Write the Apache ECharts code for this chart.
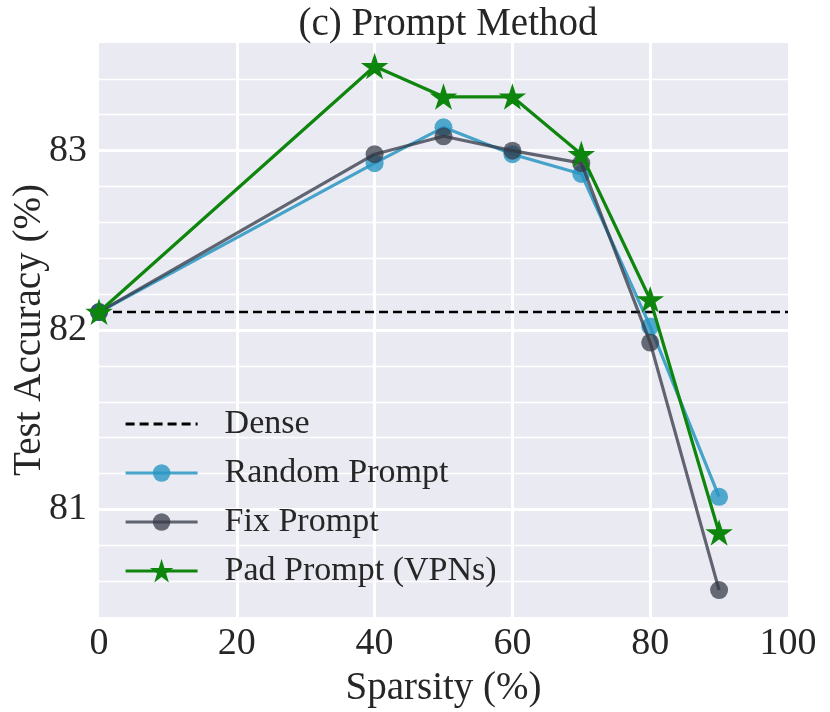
<!DOCTYPE html>
<html>
<head>
<meta charset="utf-8">
<script src="https://cdn.jsdelivr.net/npm/echarts@6/dist/echarts.min.js"></script>
<style>
  html, body { margin: 0; padding: 0; background: #fff; }
  #chart { width: 830px; height: 712px; }
</style>
</head>
<body>
<div id="chart"></div>
<script>
// sparsity levels (%)
const sparsity = [0, 40, 50, 60, 70, 80, 90];
// test accuracy (%) per method
const randomPrompt = [82.10, 82.93, 83.13, 82.98, 82.87, 82.02, 81.07];
const fixPrompt = [82.10, 82.98, 83.08, 83.00, 82.93, 81.93, 80.55];
const padPrompt = [82.10, 83.47, 83.30, 83.30, 82.98, 82.17, 80.87];
const denseAcc = 82.10;
const denseRange = [0, 100];
// labelled y ticks (major grid)
const yMajor = [81, 82, 83];

const FONT = 'Liberation Serif';
const TXT = '#262626';
const GREEN = '#0E860E';
const STAR = 'path://M50 0 L61.23 34.55 L97.55 34.55 L68.17 55.9 L79.39 90.45 L50 69.1 L20.61 90.45 L31.83 55.9 L2.45 34.55 L38.77 34.55 Z';

const pairs = (ys) => sparsity.map((x, i) => [x, ys[i]]);

const chart = echarts.init(document.getElementById('chart'), null, { renderer: 'canvas' });

chart.setOption({
	animation: false,
	backgroundColor: '#fff',
	title: {
		text: '(c) Prompt Method',
		left: 443,
		textAlign: 'center',
		top: 0,
		textStyle: { fontFamily: FONT, fontSize: 39, fontWeight: 'normal', color: TXT }
	},
	grid: {
		left: 99,
		right: 42,
		top: 43,
		bottom: 95,
		outerBoundsMode: 'none',
		containLabel: false,
		show: true,
		backgroundColor: '#EAEAF2',
		borderWidth: 0
	},
	legend: {
		data: [
			// dashed line only, no marker
			{ name: 'Dense', itemStyle: { color: 'rgba(0,0,0,0)', borderWidth: 0 } },
			'Random Prompt', 'Fix Prompt', 'Pad Prompt (VPNs)'
		],
		orient: 'vertical',
		left: 124,
		top: 407,
		padding: 0,
		itemWidth: 72,
		itemHeight: 22,
		itemGap: 15,
		lineStyle: { width: 3.2 },
		textStyle: {
			fontFamily: FONT, fontSize: 34, color: TXT,
			lineHeight: 34, padding: [0, 0, 0, 22]
		}
	},
	xAxis: {
		type: 'value',
		min: 0,
		max: 100,
		interval: 20,
		name: 'Sparsity (%)',
		nameLocation: 'middle',
		nameGap: 52,
		nameMoveOverlap: false,
		nameTextStyle: { fontFamily: FONT, fontSize: 39, color: TXT },
		axisLine: { show: false },
		axisTick: { show: false },
		axisLabel: { fontFamily: FONT, fontSize: 38, color: TXT, margin: 8 },
		splitLine: {
			show: true, showMinLine: false, showMaxLine: false,
			lineStyle: { color: '#fff', width: 3 }
		}
	},
	yAxis: {
		type: 'value',
		min: 80.4,
		max: 83.6,
		interval: 0.2,
		name: 'Test Accuracy (%)',
		nameLocation: 'middle',
		nameGap: 50,
		nameMoveOverlap: false,
		nameTextStyle: { fontFamily: FONT, fontSize: 39, color: TXT },
		axisLine: { show: false },
		axisTick: { show: false },
		axisLabel: {
			fontFamily: FONT, fontSize: 38, color: TXT, margin: 12,
			formatter: (v) => yMajor.some((m) => Math.abs(v - m) < 1e-6) ? String(Math.round(v)) : ''
		},
		splitLine: {
			show: true, showMinLine: false, showMaxLine: false,
			lineStyle: { color: '#fff', width: 1.3 }
		}
	},
	series: [
		{
			// major y grid lines
			name: 'majorGrid',
			type: 'line',
			data: [],
			silent: true,
			markLine: {
				silent: true,
				z: 1,
				symbol: 'none',
				label: { show: false },
				lineStyle: { color: '#fff', width: 3, type: 'solid' },
				data: yMajor.map((v) => ({ yAxis: v }))
			}
		},
		{
			name: 'Dense',
			type: 'line',
			z: 3,
			symbol: 'none',
			data: denseRange.map((x) => [x, denseAcc]),
			lineStyle: { color: '#000', width: 2.5, type: [9, 5] },
			itemStyle: { color: '#000' }
		},
		{
			name: 'Random Prompt',
			type: 'line',
			z: 4,
			symbol: 'circle',
			symbolSize: 18,
			data: pairs(randomPrompt),
			lineStyle: { color: 'rgba(40,150,195,0.85)', width: 3.2 },
			itemStyle: { color: 'rgba(40,150,195,0.8)' }
		},
		{
			name: 'Fix Prompt',
			type: 'line',
			z: 5,
			symbol: 'circle',
			symbolSize: 18,
			data: pairs(fixPrompt),
			lineStyle: { color: 'rgba(50,55,68,0.75)', width: 3.2 },
			itemStyle: { color: 'rgba(50,55,68,0.72)' }
		},
		{
			name: 'Pad Prompt (VPNs)',
			type: 'line',
			z: 6,
			symbol: STAR,
			symbolSize: [23, 22],
			data: pairs(padPrompt),
			lineStyle: { color: GREEN, width: 3.2 },
			itemStyle: { color: GREEN, borderColor: GREEN, borderWidth: 1.5 }
		}
	]
});
</script>
</body>
</html>
